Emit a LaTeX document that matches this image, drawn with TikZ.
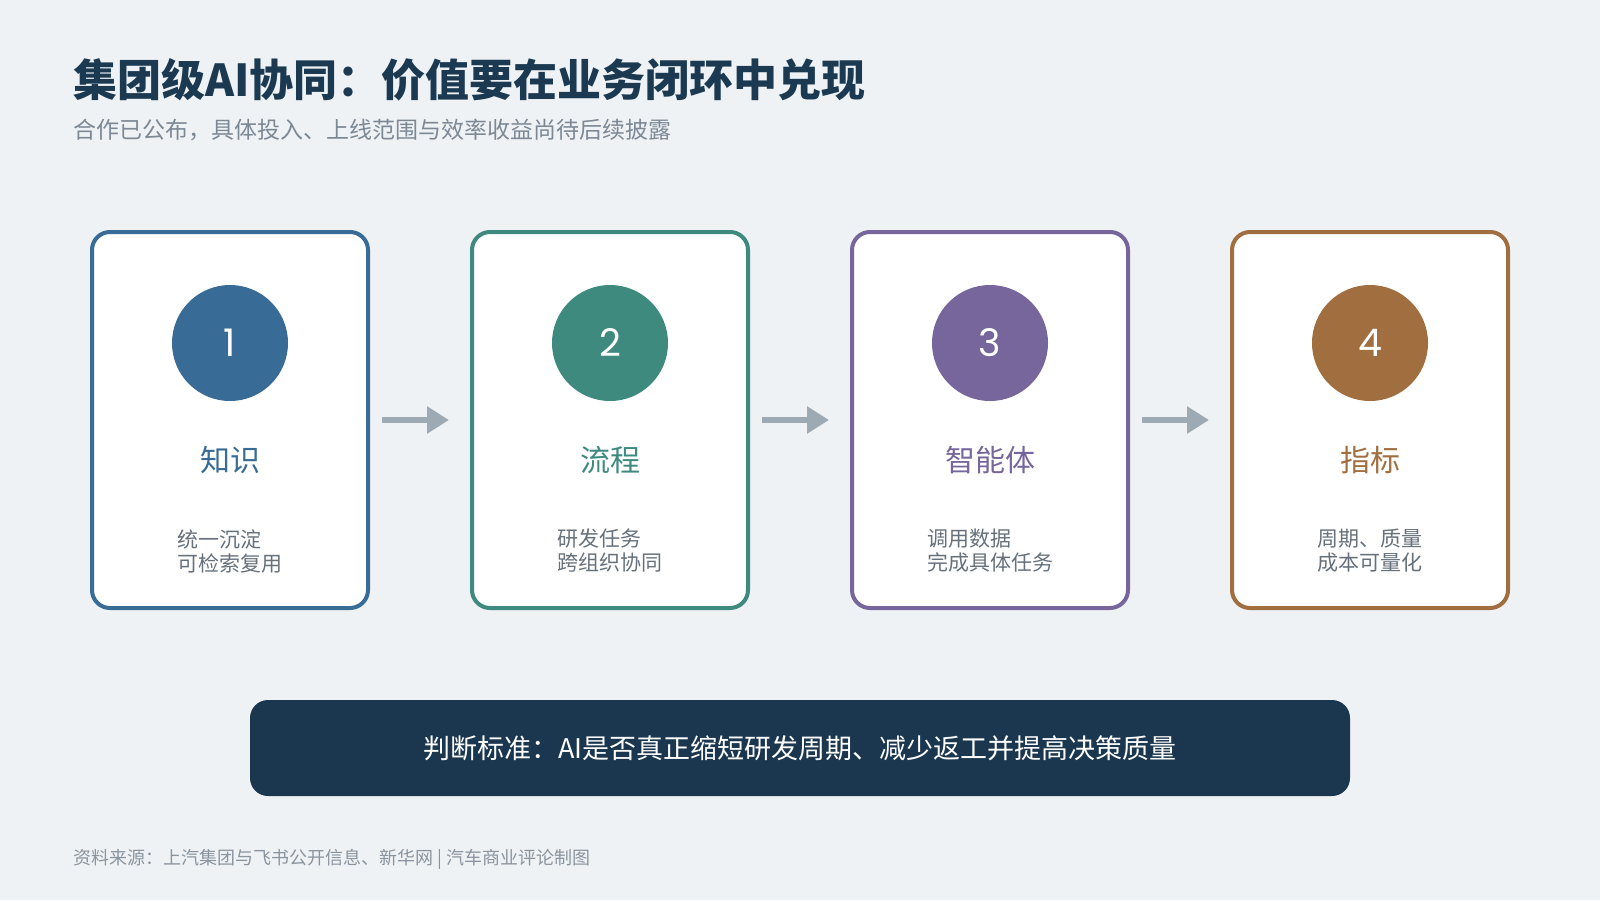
\documentclass[tikz,border=0pt]{standalone}
\usepackage{fontspec}
\setmainfont{Noto Sans CJK SC}
\newfontfamily\numfont{Poppins}
\usetikzlibrary{arrows.meta}

\definecolor{bgcol}{HTML}{EEF2F5}
\definecolor{navy}{HTML}{1B3A52}
\definecolor{barcol}{HTML}{1B3750}
\definecolor{subcol}{HTML}{7C8894}
\definecolor{desccol}{HTML}{66717C}
\definecolor{notecol}{HTML}{8A949E}
\definecolor{arrowcol}{HTML}{9DA9B3}
\definecolor{cblue}{HTML}{386C96}
\definecolor{cteal}{HTML}{3E8A7F}
\definecolor{cpurple}{HTML}{77669B}
\definecolor{cbrown}{HTML}{A06E3F}

\begin{document}
\begin{tikzpicture}[
		x = 1pt, y = -1pt,
		card/.style = {
			draw,
			fill = white,
			line width = 4pt,
			rounded corners = 18pt,
			minimum width = 276pt,
			minimum height = 376pt
		},
		num/.style = {
			circle,
			minimum size = 116pt,
			text = white,
			font = \numfont\fontsize{38}{38}\selectfont
		},
		head/.style = {font = \fontsize{30}{30}\selectfont},
		desc/.style = {
			align = left,
			text = desccol,
			font = \fontsize{21}{24}\selectfont
		},
		link/.style = {
			draw = arrowcol,
			line width = 6pt,
			-{Triangle[length=22pt, width=26pt]},
			shorten <= 12pt,
			shorten >= 21pt
		}
	]

	\fill [bgcol] (0,0) rectangle (1600,900);
	\useasboundingbox (0,0) rectangle (1600,900);

	% title lines
	\node [anchor=west, inner sep=0, text=navy, font=\bfseries\fontsize{44}{44}\selectfont] (title) at (73,80) {集团级AI协同：价值要在业务闭环中兑现};
	\node [anchor=west, inner sep=0, text=subcol, font=\fontsize{23}{23}\selectfont] (subtitle) at (73,130) {合作已公布，具体投入、上线范围与效率收益尚待后续披露};

	% the four steps
	\foreach \i/\x/\col/\name/\la/\lb in {
		1/230/cblue/知识/统一沉淀/可检索复用,
		2/610/cteal/流程/研发任务/跨组织协同,
		3/990/cpurple/智能体/调用数据/完成具体任务,
		4/1370/cbrown/指标/周期、质量/成本可量化}
	{
		\node [card, draw=\col] (card\i) at (\x,420) {};
		\node [num, fill=\col] (num\i) at (\x,343) {\i};
		\node [head, text=\col] (head\i) at (\x,460) {\name};
		\node [desc] (desc\i) at (\x,551) {\la\\\lb};
	}

	\foreach \i in {1,2,3}
	{
		\pgfmathtruncatemacro{\j}{\i+1}
		\draw [link] (card\i) -- (card\j);
	}

	% bottom line
	\node [fill=barcol, rounded corners=18pt, minimum width=1100pt, minimum height=96pt, text=white, font=\fontsize{27}{27}\selectfont] (bar) at (800,748) {判断标准：AI是否真正缩短研发周期、减少返工并提高决策质量};

	\node [anchor=west, inner sep=0, text=notecol, font=\fontsize{18}{18}\selectfont] (source) at (73,859) {资料来源：上汽集团与飞书公开信息、新华网 | 汽车商业评论制图};
\end{tikzpicture}
\end{document}
